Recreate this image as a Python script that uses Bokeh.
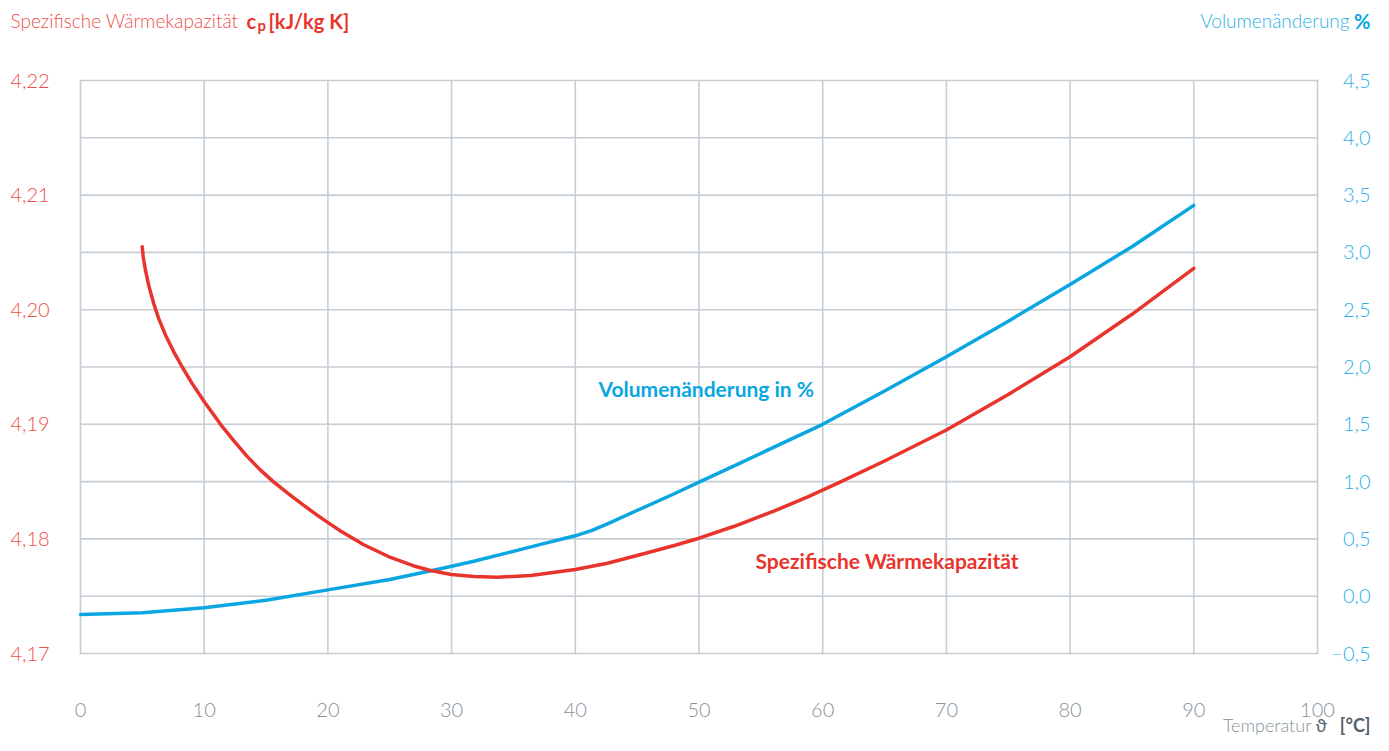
from bokeh.plotting import figure
from bokeh.models import Range1d, Label
from bokeh.core.properties import value
from bokeh.embed import file_html
from bokeh.resources import INLINE

# ---- data ----
temp_cp = [4.99, 5.07, 5.26, 5.52, 5.93, 6.33, 6.87, 7.55, 8.22, 9.03, 10.05, 11.32, 12.4, 13.47,
           14.55, 15.63, 16.98, 18.05, 19.13, 20.16, 21.02, 22.9, 25.06, 26.95, 28.3, 29.97,
           31.8, 33.7, 36.4, 40, 42.6, 45.3, 48, 50, 52.8, 56.05, 58.75, 61.4, 65, 70, 75,
           80, 85, 90]
cp = [4.2055, 4.2046, 4.2034, 4.2021, 4.2005, 4.1992, 4.1978, 4.1963, 4.1950, 4.19355,
      4.1919, 4.1900, 4.18855, 4.1872, 4.1860, 4.18495, 4.1838, 4.18292, 4.18208, 4.18131,
      4.18069, 4.17949, 4.17838, 4.17764, 4.17724, 4.17689, 4.17672, 4.17666, 4.17681,
      4.17733, 4.17788, 4.17864, 4.17942, 4.18006, 4.18108, 4.18242, 4.18364, 4.18495,
      4.1868, 4.1895, 4.1926, 4.1959, 4.1996, 4.2036]

temp_vol = [0, 5, 10, 15, 20, 25, 29.1, 31.8, 34.5, 37.2, 39.1, 40, 41.3, 42.6, 45.3, 48, 50,
            52.8, 60, 65, 70, 75, 80, 85, 90]
vol = [-0.16, -0.145, -0.10, -0.035, 0.055, 0.145, 0.239, 0.305, 0.378, 0.452, 0.503, 0.527,
       0.572, 0.632, 0.763, 0.894, 0.995, 1.135, 1.50, 1.79, 2.09, 2.40, 2.72, 3.05, 3.41]

x_ticks = [0, 10, 20, 30, 40, 50, 60, 70, 80, 90, 100]
x_labels = ["0", "10", "20", "30", "40", "50", "60", "70", "80", "90", "100"]
cp_ticks = [4.17, 4.18, 4.19, 4.20, 4.21, 4.22]
cp_labels = ["4,17", "4,18", "4,19", "4,20", "4,21", "4,22"]
cp_grid = [4.17, 4.175, 4.18, 4.185, 4.19, 4.195, 4.20, 4.205, 4.21, 4.215, 4.22]
vol_ticks = [-0.5, 0.0, 0.5, 1.0, 1.5, 2.0, 2.5, 3.0, 3.5, 4.0, 4.5]
vol_labels = ["\u22120,5", "0,0", "0,5", "1,0", "1,5", "2,0", "2,5", "3,0", "3,5", "4,0", "4,5"]

# ---- layout (canvas pixels) ----
W, H = 1373, 735
FL, FR, FT, FB = 80, 1317, 80, 653          # plotting area of the chart
X0, X1 = 0, 100
CP0, CP1 = 4.17, 4.22
V0, V1 = -0.5, 4.5

def sx(px):
    return X0 + (px - FL) * (X1 - X0) / (FR - FL)

def scp(py):
    return CP1 - (py - FT) * (CP1 - CP0) / (FB - FT)

def svol(py):
    return V1 - (py - FT) * (V1 - V0) / (FB - FT)

RED = "#e8342c"
RED_L = "#ef4f4a"
BLUE = "#0aa6e1"
BLUE_L = "#2eb0e5"
GRAY = "#86929b"
DARK = "#55616a"
GRID = "#c6ced5"
FONT = "Lato"
FONT_L = "'Lato Light', Lato"

p = figure(width=W, height=H, x_range=Range1d(sx(0), sx(W)), y_range=Range1d(scp(H), scp(0)),
           output_backend="svg", toolbar_location=None, title=None,
           x_axis_location=None, y_axis_location=None, min_border=0)
p.extra_y_ranges = {"vol": Range1d(svol(H), svol(0))}
p.grid.visible = False
p.outline_line_color = None
p.background_fill_color = "white"
p.border_fill_color = "white"

# grid lines from the tick lists
p.segment(x0=x_ticks, y0=[CP0] * len(x_ticks), x1=x_ticks, y1=[CP1] * len(x_ticks),
          line_color=GRID, line_width=1.6, line_cap="square")
p.segment(x0=[X0] * len(cp_grid), y0=cp_grid, x1=[X1] * len(cp_grid), y1=cp_grid,
          line_color=GRID, line_width=1.6, line_cap="square")

# tick labels
p.text(x=[sx(10)] * len(cp_ticks), y=cp_ticks, text=cp_labels, text_color=RED_L,
       text_font=value(FONT_L), text_font_size=value("20px"), text_align="left",
       text_baseline="middle")
p.text(x=[sx(1370)] * len(vol_ticks), y=vol_ticks, text=vol_labels, y_range_name="vol",
       text_color=BLUE_L, text_font=value(FONT_L), text_font_size=value("20px"),
       text_align="right", text_baseline="middle")
p.text(x=x_ticks, y=[scp(709)] * len(x_ticks), text=x_labels, text_color=GRAY,
       text_font=value(FONT_L), text_font_size=value("20px"), text_align="center",
       text_baseline="middle")

# curves
p.line(temp_vol, vol, y_range_name="vol", line_color=BLUE, line_width=3.5, line_cap="round",
       line_join="round")
p.line(temp_cp, cp, line_color=RED, line_width=3.5, line_cap="round", line_join="round")

def lab(x, y, text, color, size, style="normal", align="left", rng=None, font=FONT):
    kw = {"y_range_name": rng} if rng else {}
    p.add_layout(Label(x=x, y=y, text=text, text_color=color, text_font=font,
                       text_font_size=size, text_font_style=style, text_align=align,
                       text_baseline="middle", **kw))

# inline series labels
lab(sx(598), svol(388), "Volumenänderung in %", BLUE, "21px", "bold", rng="vol")
lab(sx(755), scp(560), "Spezifische Wärmekapazität", RED, "21px", "bold")

# top-left title
lab(sx(10), scp(20), "Spezifische Wärmekapazität", RED_L, "19px", font=FONT_L)
lab(sx(246), scp(20), "c", RED, "20px", "bold")
lab(sx(257), scp(24), "p", RED, "15px", "bold")
lab(sx(268), scp(20), "[kJ/kg K]", RED, "20px", "bold")

# top-right title
lab(sx(1349), svol(20), "Volumenänderung", BLUE_L, "19px", align="right", rng="vol", font=FONT_L)
lab(sx(1370), svol(20), "%", BLUE, "20px", "bold", align="right", rng="vol")

# bottom-right axis title (kept inside the canvas)
lab(sx(1311), scp(724), "Temperatur", GRAY, "18px", align="right", font=FONT_L)
lab(sx(1315), scp(724), "\u03d1", DARK, "18px")
lab(sx(1370), scp(724), "[°C]", DARK, "18px", "bold", align="right")

open("out.html", "w").write(file_html(p, INLINE))
